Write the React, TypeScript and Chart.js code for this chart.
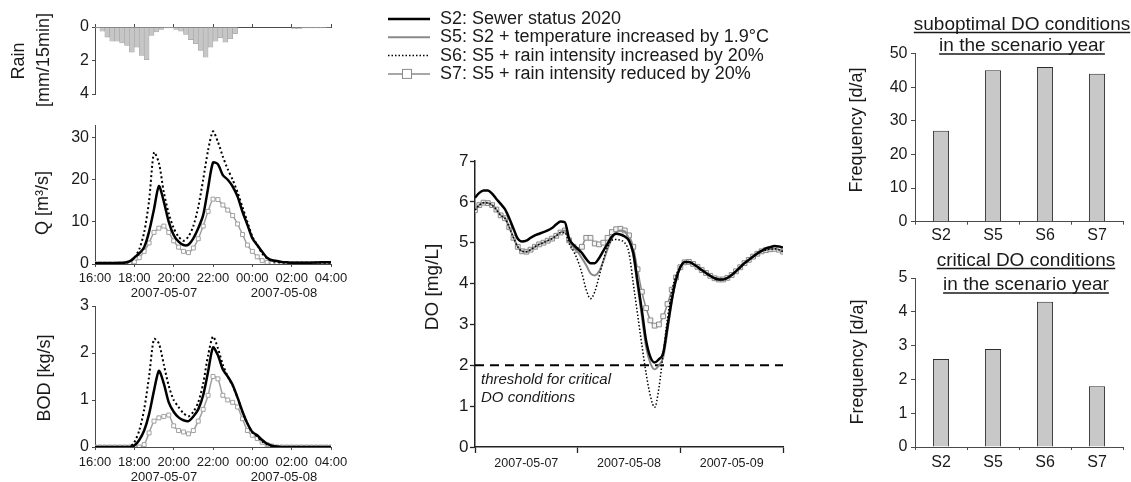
import React, { useEffect, useRef } from "react";
import { Chart, registerables } from "chart.js";

Chart.register(...registerables);

const FONT = "'Liberation Sans', Arial, Helvetica, sans-serif";
Chart.defaults.font.family = FONT;

// ---------------- data ----------------
const sewerTimeLabels = ["16:00", "18:00", "20:00", "22:00", "00:00", "02:00", "04:00"];
const sewerDateLabels = ["2007-05-07", "2007-05-08"];
const sewerStepHours = 0.25;

const rainMm = [
  0.05, 0.25, 0.6, 0.85, 0.85, 0.95, 1.1, 1.5, 1.2, 1.7, 1.95, 0.5, 0.3, 0.15, 0.05, 0.05,
  0.15, 0.25, 0.45, 0.75, 1.0, 1.4, 1.8, 1.2, 0.85, 0.65, 0.9, 0.7, 0.4, 0, 0, 0,
  0, 0, 0, 0, 0, 0, 0, 0, 0.1, 0.1, 0.05, 0.05, 0.05, 0.05, 0.05, 0.03,
];

const qS2 = [
  0.2, 0.2, 0.2, 0.2, 0.2, 0.25, 0.3, 0.6, 1.5, 2.5, 4.0, 7.7, 13, 18.5, 14.8, 10, 6.9,
  5.3, 4.5, 4.6, 6.1, 8.5, 11.6, 18, 24.1, 23.7, 21.1, 20, 18.4, 16, 12.4, 9.3, 6.1,
  4.5, 2.9, 1.5, 0.9, 0.7, 0.5, 0.4, 0.3, 0.3, 0.3, 0.3, 0.3, 0.35, 0.4, 0.4, 0.4,
];
const qS6 = [
  0.1, 0.1, 0.1, 0.1, 0.1, 0.1, 0.2, 0.5, 1.5, 3.5, 7.5, 15, 26.5, 24, 17, 12, 8.5,
  6.5, 5.5, 6.5, 9, 13.5, 20, 27, 31.5, 29, 25.5, 22.5, 20, 17, 13.5, 10, 6.5,
  4.5, 2.5, 1.3, 0.7, 0.5, 0.4, 0.3, 0.3, 0.3, 0.3, 0.3, 0.3, 0.3, 0.3, 0.3, 0.3,
];
const qS7 = [
  0.1, 0.1, 0.1, 0.1, 0.1, 0.1, 0.1, 0.15, 0.5, 1.5, 3, 5, 7.5, 8.5, 9, 7.5, 5.5,
  4, 3, 2.7, 3.8, 6, 9, 12.5, 15.4, 15.3, 14, 12.8, 11.5, 9.5, 7, 4.5, 3,
  1.7, 0.8, 0.4, 0.2, 0.1, 0.1, 0.1, 0.1, 0.1, 0.1, 0.1, 0.1, 0.1, 0.1, 0.1, 0.1,
];

const bodS2 = [
  0, 0, 0, 0, 0, 0, 0, 0, 0.03, 0.15, 0.35, 0.7, 1.2, 1.62, 1.35, 0.95, 0.75,
  0.63, 0.57, 0.55, 0.65, 0.8, 1.1, 1.6, 2.12, 1.95, 1.65, 1.5, 1.32, 1.05, 0.75, 0.5, 0.32,
  0.25, 0.15, 0.07, 0.03, 0.01, 0, 0, 0, 0, 0, 0, 0, 0, 0, 0, 0,
];
const bodS6 = [
  0, 0, 0, 0, 0, 0, 0, 0, 0.1, 0.35, 0.8, 1.5, 2.3, 2.2, 1.75, 1.3, 1.0,
  0.85, 0.72, 0.65, 0.75, 0.95, 1.35, 1.95, 2.35, 2.1, 1.75, 1.5, 1.3, 1.05, 0.75, 0.5, 0.32,
  0.22, 0.12, 0.05, 0.02, 0, 0, 0, 0, 0, 0, 0, 0, 0, 0, 0, 0,
];
const bodS7 = [
  0, 0, 0, 0, 0, 0, 0, 0, 0, 0, 0.05, 0.3, 0.55, 0.62, 0.65, 0.68, 0.45,
  0.35, 0.32, 0.28, 0.35, 0.55, 0.8, 1.1, 1.5, 1.45, 1.1, 1.0, 0.95, 0.85, 0.6, 0.35, 0.25,
  0.18, 0.1, 0.05, 0.02, 0, 0, 0, 0, 0, 0, 0, 0, 0, 0, 0, 0,
];

// DO, hourly from 2007-05-07 00:00 to 2007-05-10 00:00
const doDateLabels = ["2007-05-07", "2007-05-08", "2007-05-09"];
const doStepHours = 1;
const doThreshold = 2;
const doS2 = [
  6.1, 6.22, 6.28, 6.28, 6.2, 6.07, 5.95, 5.82, 5.6, 5.34, 5.1, 5.03, 5.05, 5.12, 5.18, 5.22,
  5.26, 5.3, 5.36, 5.45, 5.52, 5.5, 5.1, 4.95, 4.85, 4.75, 4.6, 4.5, 4.5, 4.62, 4.8, 4.98,
  5.15, 5.22, 5.2, 5.15, 5.05, 4.75, 4.05, 3.35, 2.6, 2.2, 2.07, 2.15, 2.3, 2.95, 3.6, 4.1,
  4.4, 4.53, 4.53, 4.48, 4.41, 4.33, 4.26, 4.19, 4.13, 4.1, 4.1, 4.14, 4.21, 4.3, 4.4, 4.5,
  4.58, 4.66, 4.74, 4.8, 4.86, 4.89, 4.92, 4.91, 4.88,
];
const doS5 = [
  5.8, 5.92, 5.98, 5.97, 5.92, 5.81, 5.67, 5.6, 5.38, 5.12, 4.9, 4.79, 4.78, 4.83, 4.9, 4.96,
  5.0, 5.05, 5.1, 5.17, 5.25, 5.3, 5.06, 4.9, 4.78, 4.62, 4.45, 4.25, 4.2, 4.3, 4.55, 4.85,
  5.1, 5.25, 5.3, 5.28, 5.08, 4.7, 3.95, 3.2, 2.45, 2.05, 1.9, 2.0, 2.2, 2.85, 3.55, 4.1,
  4.4, 4.52, 4.53, 4.48, 4.41, 4.33, 4.26, 4.19, 4.13, 4.1, 4.1, 4.14, 4.21, 4.3, 4.4, 4.5,
  4.58, 4.66, 4.73, 4.79, 4.82, 4.84, 4.85, 4.83, 4.78,
];
const doS6 = [
  5.8, 5.92, 5.98, 5.97, 5.92, 5.81, 5.67, 5.6, 5.38, 5.12, 4.9, 4.79, 4.78, 4.83, 4.9, 4.96,
  5.0, 5.05, 5.1, 5.17, 5.25, 5.25, 4.98, 4.8, 4.57, 4.25, 3.85, 3.63, 3.8, 4.17, 4.57, 4.9,
  5.06, 5.08, 5.06, 5.0, 4.75, 4.0, 3.25, 2.5, 1.8, 1.25, 0.97, 1.45, 2.3, 3.15, 3.8, 4.2,
  4.42, 4.52, 4.53, 4.48, 4.41, 4.33, 4.26, 4.19, 4.13, 4.1, 4.1, 4.14, 4.21, 4.3, 4.4, 4.5,
  4.58, 4.66, 4.73, 4.79, 4.82, 4.84, 4.85, 4.83, 4.78,
];
const doS7 = [
  5.8, 5.92, 5.98, 5.97, 5.92, 5.81, 5.67, 5.6, 5.38, 5.12, 4.9, 4.79, 4.78, 4.83, 4.9, 4.96,
  5.0, 5.05, 5.1, 5.17, 5.25, 5.3, 5.06, 4.9, 4.82, 4.9, 5.12, 5.12, 4.98, 4.96, 5.0, 5.12,
  5.26, 5.33, 5.34, 5.3, 5.18, 4.9, 4.35, 3.8, 3.4, 3.1, 2.97, 3.0, 3.2, 3.5, 3.85, 4.15,
  4.4, 4.52, 4.53, 4.48, 4.41, 4.33, 4.26, 4.19, 4.13, 4.1, 4.1, 4.14, 4.21, 4.3, 4.4, 4.5,
  4.58, 4.66, 4.73, 4.79, 4.82, 4.84, 4.85, 4.83, 4.78,
];

const scenarios = ["S2", "S5", "S6", "S7"];
const suboptimalDays = [27, 45, 46, 44];
const criticalDays = [2.6, 2.9, 4.3, 1.8];

const legendLabels = [
  "S2: Sewer status 2020",
  "S5: S2 + temperature increased by 1.9°C",
  "S6: S5 + rain intensity increased by 20%",
  "S7: S5 + rain intensity reduced by 20%",
];

// ---------------- styles / helpers ----------------
const W = 1131;
const H = 482;
const TXT = "#1a1a1a";
const AXIS = "#4a4a4a";
const YW = 60; // fixed y-axis box width
const XH = 30; // fixed x-axis box height

const series = (vals: number[], step: number) => vals.map((v, i) => ({ x: i * step, y: v }));
const fixY = (s: any) => { s.width = YW; };
const fixX = (s: any) => { s.height = XH; };

// padding so that the plot area is exactly [l..r] x [t..b] in page pixels
function area(l: number, t: number, r: number, b: number, xTop = false) {
  return {
    left: l - YW,
    top: xTop ? t - XH : t,
    right: W - r,
    bottom: xTop ? H - b : H - b - XH,
  };
}

type TextItem = {
  text: string; x: number; y: number; size: number; italic?: boolean;
  rotate?: number; align?: CanvasTextAlign; baseline?: CanvasTextBaseline; underline?: number;
};

function textLayer(items: TextItem[]) {
  return {
    id: "textLayer",
    afterDraw(chart: any) {
      const ctx = chart.ctx;
      items.forEach((it) => {
        ctx.save();
        ctx.translate(it.x, it.y);
        if (it.rotate) ctx.rotate(it.rotate);
        ctx.font = `${it.italic ? "italic " : ""}${it.size}px ${FONT}`;
        ctx.fillStyle = TXT;
        ctx.textAlign = it.align ?? "center";
        ctx.textBaseline = it.baseline ?? "middle";
        ctx.fillText(it.text, 0, 0);
        if (it.underline !== undefined) {
          const w = ctx.measureText(it.text).width;
          const x0 = it.align === "left" ? 0 : -w / 2;
          ctx.strokeStyle = TXT;
          ctx.lineWidth = 1.3;
          ctx.beginPath();
          ctx.moveTo(x0, it.underline);
          ctx.lineTo(x0 + w, it.underline);
          ctx.stroke();
        }
        ctx.restore();
      });
    },
  };
}

const legendStyles = [
  { color: "#000", width: 2.5, dash: [] as number[], square: false },
  { color: "#8a8a8a", width: 2, dash: [] as number[], square: false },
  { color: "#000", width: 1.5, dash: [1.5, 2], square: false },
  { color: "#8a8a8a", width: 1.5, dash: [] as number[], square: true },
];

const legendLayer = {
  id: "legendLayer",
  afterDraw(chart: any) {
    const ctx = chart.ctx;
    legendLabels.forEach((label, i) => {
      const y = 19 + i * 18.3;
      const st = legendStyles[i];
      ctx.save();
      ctx.strokeStyle = st.color;
      ctx.lineWidth = st.width;
      ctx.setLineDash(st.dash);
      ctx.beginPath();
      ctx.moveTo(388, y);
      ctx.lineTo(430, y);
      ctx.stroke();
      if (st.square) {
        ctx.setLineDash([]);
        ctx.fillStyle = "#fff";
        ctx.fillRect(402, y - 5, 10, 10);
        ctx.lineWidth = 1;
        ctx.strokeRect(402.5, y - 4.5, 9, 9);
      }
      ctx.fillStyle = TXT;
      ctx.font = `18px ${FONT}`;
      ctx.textAlign = "left";
      ctx.textBaseline = "middle";
      ctx.fillText(label, 440, y);
      ctx.restore();
    });
  },
};

const pageTexts: TextItem[] = [
  { text: "Rain", x: 19, y: 61, size: 18, rotate: -Math.PI / 2 },
  { text: "[mm/15min]", x: 44, y: 60, size: 18, rotate: -Math.PI / 2 },
  { text: "Q [m³/s]", x: 43, y: 203, size: 18, rotate: -Math.PI / 2 },
  { text: "BOD [kg/s]", x: 45, y: 378, size: 18, rotate: -Math.PI / 2 },
  { text: sewerDateLabels[0], x: 164, y: 293, size: 13 },
  { text: sewerDateLabels[1], x: 284, y: 293, size: 13 },
  { text: sewerDateLabels[0], x: 164, y: 477, size: 13 },
  { text: sewerDateLabels[1], x: 284, y: 477, size: 13 },
  { text: "DO [mg/L]", x: 433, y: 287, size: 19, rotate: -Math.PI / 2 },
  { text: "threshold for critical", x: 481, y: 380, size: 15, italic: true, align: "left" },
  { text: "DO conditions", x: 481, y: 398, size: 15, italic: true, align: "left" },
  { text: "Frequency [d/a]", x: 857, y: 130, size: 18, rotate: -Math.PI / 2 },
  { text: "Frequency [d/a]", x: 858, y: 362, size: 18, rotate: -Math.PI / 2 },
  { text: "suboptimal DO conditions", x: 1022, y: 29.5, size: 19, baseline: "alphabetic", underline: 3 },
  { text: "in the scenario year", x: 1022, y: 51, size: 19, baseline: "alphabetic", underline: 3 },
  { text: "critical DO conditions", x: 1026, y: 265.5, size: 19, baseline: "alphabetic", underline: 3 },
  { text: "in the scenario year", x: 1026, y: 290, size: 19, baseline: "alphabetic", underline: 3 },
];

const baseOptions = (padding: any) => ({
  responsive: false,
  animation: false as const,
  events: [] as any[],
  layout: { padding },
  plugins: { legend: { display: false }, tooltip: { enabled: false } },
});

function yScale(min: number, max: number, step: number, tl: number, pad: number, size: number, extra: any = {}) {
  return {
    type: "linear",
    min,
    max,
    afterFit: fixY,
    border: { color: AXIS, width: 1 },
    grid: { drawOnChartArea: false, drawTicks: true, tickLength: tl, color: AXIS },
    ticks: { stepSize: step, includeBounds: false, padding: pad, color: TXT, font: { size } },
    ...extra,
  };
}

function sewerX(tl: number, pad: number, showLabels: boolean, position = "bottom") {
  return {
    type: "linear",
    position,
    min: 0,
    max: 12,
    offset: false,
    afterFit: fixX,
    border: { color: AXIS, width: 1 },
    grid: { offset: false, drawOnChartArea: false, drawTicks: true, tickLength: tl, color: AXIS },
    ticks: {
      display: showLabels,
      stepSize: 2,
      autoSkip: false,
      maxRotation: 0,
      padding: pad,
      color: TXT,
      font: { size: 13 },
      callback: (v: number) => sewerTimeLabels[Math.round(v / 2)] ?? "",
    },
  };
}

function sewerDatasets(s2: number[], s6: number[], s7: number[]) {
  return [
    { data: series(s2, sewerStepHours), borderColor: "#000", borderWidth: 2.5, pointRadius: 0, tension: 0.25 },
    { data: series(s6, sewerStepHours), borderColor: "#000", borderWidth: 2, borderDash: [2, 2.6], pointRadius: 0, tension: 0.25 },
    {
      data: series(s7, sewerStepHours), borderColor: "#a0a0a0", borderWidth: 1.5, tension: 0.25,
      pointStyle: "rect", pointRadius: 2.8, pointBorderColor: "#a0a0a0", pointBackgroundColor: "#fff", pointBorderWidth: 1,
    },
  ];
}

function buildConfigs(): any[] {
  const rain = {
    type: "bar",
    data: {
      datasets: [{
        data: rainMm.map((v, i) => ({ x: (i + 0.5) * sewerStepHours, y: v })),
        backgroundColor: "#c6c6c6", borderColor: "#a4a4a4", borderWidth: 0.6,
        barPercentage: 1, categoryPercentage: 1, borderSkipped: false,
      }],
    },
    options: {
      ...baseOptions({ left: 95 - YW, top: 0, right: W - 331, bottom: H - 94 }),
      scales: {
        x: { ...sewerX(3, 0, false, "top"), afterFit: (s: any) => { s.height = 27; } },
        y: yScale(0, 4, 2, 3, 3, 16, { reverse: true }),
      },
    },
  };

  const q = {
    type: "line",
    data: { datasets: sewerDatasets(qS2, qS6, qS7) },
    options: {
      ...baseOptions(area(95, 125, 331, 264)),
      scales: { x: sewerX(3, 4, true), y: yScale(0, 33, 10, 3, 3, 16) },
    },
  };

  const bod = {
    type: "line",
    data: { datasets: sewerDatasets(bodS2, bodS6, bodS7) },
    options: {
      ...baseOptions(area(95, 306, 331, 447)),
      scales: { x: sewerX(3, 5, true), y: yScale(0, 3, 1, 3, 3, 16) },
    },
  };

  const doChart = {
    type: "line",
    data: {
      datasets: [
        { data: series(doS2, doStepHours), borderColor: "#000", borderWidth: 2.5, pointRadius: 0, cubicInterpolationMode: "monotone" },
        { data: series(doS6, doStepHours), borderColor: "#000", borderWidth: 1.5, borderDash: [1.5, 2], pointRadius: 0, cubicInterpolationMode: "monotone" },
        { data: series(doS5, doStepHours), borderColor: "#8a8a8a", borderWidth: 2, pointRadius: 0, cubicInterpolationMode: "monotone" },
        {
          data: series(doS7, doStepHours), borderColor: "#8a8a8a", borderWidth: 1.5, cubicInterpolationMode: "monotone",
          pointStyle: "rect", pointRadius: 3.4, pointBorderColor: "#8a8a8a", pointBackgroundColor: "#f4f4f4", pointBorderWidth: 1,
        },
        {
          data: [{ x: 0, y: doThreshold }, { x: 72, y: doThreshold }],
          borderColor: "#000", borderWidth: 2, borderDash: [9, 6], pointRadius: 0,
        },
      ],
    },
    options: {
      ...baseOptions(area(475, 161, 783, 447)),
      scales: {
        x: {
          type: "linear", min: 0, max: 72, offset: false, afterFit: fixX,
          afterBuildTicks: (s: any) => { s.ticks = [0, 12, 24, 36, 48, 60, 72].map((v) => ({ value: v })); },
          border: { color: "#222", width: 1.5 },
          grid: {
            drawOnChartArea: false, drawTicks: true, tickLength: 6,
            tickColor: (c: any) => (c.tick && c.tick.value % 24 === 0 ? "#222" : "rgba(0,0,0,0)"),
            tickWidth: 1.3,
          },
          ticks: {
            autoSkip: false, maxRotation: 0, padding: 3, color: TXT, font: { size: 12.5 },
            callback: (v: number) => (v % 24 === 12 ? doDateLabels[Math.floor(v / 24)] : ""),
          },
        },
        y: {
          ...yScale(0, 7, 1, 5, 1.5, 17),
          border: { color: "#222", width: 1.5 },
          grid: { drawOnChartArea: false, drawTicks: true, tickLength: 5, color: "#222", tickWidth: 1.3 },
        },
      },
    },
    plugins: [legendLayer, textLayer(pageTexts)],
  };

  const barChart = (values: number[], max: number, step: number, padding: any, labPad: number) => ({
    type: "bar",
    data: {
      labels: scenarios,
      datasets: [{
        data: values, backgroundColor: "#c8c8c8", borderColor: "#2e2e2e", borderWidth: 1,
        barPercentage: 0.31, categoryPercentage: 1,
      }],
    },
    options: {
      ...baseOptions(padding),
      scales: {
        x: {
          type: "category", afterFit: fixX, offset: true,
          border: { color: AXIS, width: 1 },
          grid: { offset: true, drawOnChartArea: false, drawTicks: true, tickLength: 3, color: AXIS },
          ticks: { padding: labPad, color: TXT, font: { size: 16 } },
        },
        y: yScale(0, max, step, 4, 3.5, 16),
      },
    },
  });

  const bar1 = barChart(suboptimalDays, 50, 10, area(915, 53.5, 1123, 221.7), 1.5);
  const bar2 = barChart(criticalDays, 5, 1, area(915, 278, 1123, 447), 3);

  return [rain, q, bod, bar1, bar2, doChart];
}

export default function App() {
  const refs = useRef<(HTMLCanvasElement | null)[]>([]);

  useEffect(() => {
    const configs = buildConfigs();
    const charts = configs.map((cfg, i) => new Chart(refs.current[i] as HTMLCanvasElement, cfg));
    return () => charts.forEach((c) => c.destroy());
  }, []);

  return (
    <div style={{ position: "fixed", left: 0, top: 0, width: W, height: H, background: "#fff", overflow: "hidden" }}>
      {[0, 1, 2, 3, 4, 5].map((i) => (
        <canvas
          key={i}
          ref={(el) => { refs.current[i] = el; }}
          width={W}
          height={H}
          style={{ position: "absolute", left: 0, top: 0, width: W, height: H }}
        />
      ))}
    </div>
  );
}
